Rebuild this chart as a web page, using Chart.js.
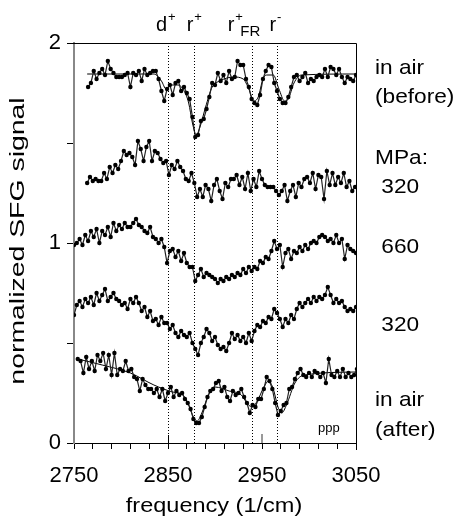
<!DOCTYPE html>
<html>
<head>
<meta charset="utf-8">
<script src="https://cdn.jsdelivr.net/npm/chart.js@4/dist/chart.umd.min.js"></script>
<style>
  body { margin: 0; background: #fff; }
  canvas { display: block; }
</style>
</head>
<body>
<canvas id="sfgChart" width="463" height="519"></canvas>
<script>
// spectra: one value every 3 cm-1 starting at the given frequency
const step = 3;

const beforeStart = 2765;
const beforeValues = [1.78, 1.80, 1.86, 1.82, 1.85, 1.87, 1.84, 1.91, 1.87, 1.85, 1.83, 1.83, 1.83, 1.84, 1.85, 1.78,
  1.85, 1.84, 1.86, 1.81, 1.87, 1.84, 1.85, 1.86, 1.86, 1.82, 1.76, 1.71, 1.77, 1.79, 1.74, 1.80, 1.81, 1.76, 1.78,
  1.75, 1.72, 1.63, 1.53, 1.54, 1.61, 1.62, 1.67, 1.73, 1.80, 1.79, 1.85, 1.81, 1.84, 1.80, 1.86, 1.82, 1.83, 1.91,
  1.89, 1.89, 1.82, 1.78, 1.72, 1.70, 1.69, 1.74, 1.82, 1.86, 1.89, 1.88, 1.80, 1.76, 1.72, 1.70, 1.70, 1.73, 1.78,
  1.83, 1.84, 1.81, 1.83, 1.85, 1.80, 1.82, 1.81, 1.83, 1.84, 1.83, 1.87, 1.83, 1.88, 1.87, 1.84, 1.87, 1.83, 1.80,
  1.83, 1.82, 1.81, 1.84];

const mpa320aStart = 2764;
const mpa320aValues = [1.30, 1.33, 1.31, 1.32, 1.31, 1.31, 1.35, 1.32, 1.38, 1.35, 1.39, 1.37, 1.41, 1.46, 1.44, 1.45,
  1.43, 1.39, 1.51, 1.47, 1.41, 1.48, 1.51, 1.41, 1.46, 1.45, 1.42, 1.40, 1.41, 1.34, 1.39, 1.37, 1.41, 1.38, 1.36,
  1.32, 1.31, 1.35, 1.30, 1.23, 1.27, 1.23, 1.29, 1.27, 1.21, 1.29, 1.32, 1.26, 1.22, 1.30, 1.28, 1.32, 1.32, 1.34,
  1.29, 1.33, 1.27, 1.35, 1.26, 1.32, 1.28, 1.36, 1.32, 1.29, 1.28, 1.28, 1.28, 1.26, 1.24, 1.26, 1.29, 1.21, 1.26,
  1.29, 1.23, 1.30, 1.28, 1.32, 1.33, 1.30, 1.35, 1.27, 1.34, 1.33, 1.22, 1.36, 1.29, 1.35, 1.29, 1.33, 1.30, 1.35,
  1.28, 1.31, 1.26, 1.28];

const mpa660Start = 2750;
const mpa660Values = [0.99, 1.00, 1.02, 0.99, 1.04, 1.01, 1.06, 1.03, 1.07, 1.00, 1.06, 1.04, 1.08, 1.03, 1.10, 1.06,
  1.09, 1.07, 1.10, 1.08, 1.08, 1.10, 1.12, 1.09, 1.08, 1.06, 1.05, 1.08, 1.03, 1.02, 1.00, 1.02, 0.98, 0.90, 0.96,
  0.97, 0.93, 0.96, 0.91, 0.95, 0.90, 0.88, 0.88, 0.81, 0.84, 0.87, 0.83, 0.85, 0.84, 0.83, 0.82, 0.80, 0.82, 0.81,
  0.83, 0.82, 0.84, 0.83, 0.85, 0.84, 0.87, 0.85, 0.88, 0.86, 0.88, 0.87, 0.91, 0.90, 0.93, 0.92, 0.96, 1.01, 0.97,
  0.99, 0.88, 0.95, 0.97, 0.92, 0.96, 0.95, 0.98, 0.96, 0.99, 0.97, 1.00, 1.01, 1.00, 1.03, 1.04, 1.03, 1.01, 1.02,
  1.00, 1.04, 1.00, 1.02, 0.92, 0.99, 0.97, 0.96, 0.95];

const mpa320bStart = 2750;
const mpa320bValues = [0.64, 0.69, 0.71, 0.68, 0.72, 0.70, 0.73, 0.69, 0.75, 0.71, 0.74, 0.77, 0.71, 0.73, 0.75, 0.72,
  0.71, 0.69, 0.70, 0.67, 0.72, 0.70, 0.73, 0.70, 0.66, 0.68, 0.63, 0.66, 0.61, 0.62, 0.59, 0.63, 0.60, 0.60, 0.57,
  0.59, 0.55, 0.53, 0.56, 0.54, 0.53, 0.55, 0.50, 0.47, 0.44, 0.50, 0.53, 0.57, 0.55, 0.51, 0.53, 0.49, 0.47, 0.48,
  0.46, 0.50, 0.55, 0.52, 0.54, 0.51, 0.53, 0.50, 0.55, 0.51, 0.56, 0.59, 0.58, 0.61, 0.60, 0.63, 0.62, 0.67, 0.65,
  0.62, 0.58, 0.62, 0.60, 0.64, 0.62, 0.67, 0.70, 0.68, 0.70, 0.72, 0.70, 0.73, 0.71, 0.73, 0.72, 0.74, 0.78, 0.74,
  0.70, 0.72, 0.70, 0.71, 0.68, 0.66, 0.67, 0.66, 0.68];

const afterStart = 2754;
const afterValues = [0.42, 0.41, 0.35, 0.43, 0.37, 0.41, 0.36, 0.44, 0.41, 0.45, 0.37, 0.44, 0.34, 0.45, 0.34, 0.37,
  0.36, 0.41, 0.36, 0.37, 0.33, 0.32, 0.26, 0.32, 0.29, 0.27, 0.27, 0.25, 0.27, 0.23, 0.27, 0.21, 0.25, 0.28, 0.23,
  0.26, 0.24, 0.25, 0.22, 0.20, 0.17, 0.12, 0.10, 0.10, 0.13, 0.18, 0.23, 0.26, 0.27, 0.30, 0.31, 0.26, 0.28, 0.23,
  0.21, 0.26, 0.24, 0.25, 0.27, 0.23, 0.20, 0.15, 0.19, 0.18, 0.22, 0.22, 0.27, 0.33, 0.31, 0.27, 0.20, 0.14, 0.16,
  0.19, 0.20, 0.27, 0.28, 0.32, 0.35, 0.37, 0.34, 0.33, 0.35, 0.33, 0.36, 0.35, 0.33, 0.35, 0.30, 0.42, 0.34, 0.33,
  0.36, 0.33, 0.37, 0.33, 0.35, 0.33, 0.34, 0.37, 0.36];

// fitted curves (frequency, value)
const fitBeforeX = [2764, 2800, 2835, 2843, 2848, 2853, 2860, 2866, 2872, 2876, 2880, 2884, 2890, 2897, 2905, 2920,
  2930, 2936, 2941, 2946, 2951, 2955, 2962, 2968, 2974, 2978, 2984, 2992, 3050];
const fitBeforeY = [1.845, 1.845, 1.845, 1.81, 1.77, 1.79, 1.79, 1.77, 1.70, 1.60, 1.54, 1.58, 1.68, 1.78, 1.81, 1.83,
  1.82, 1.77, 1.71, 1.73, 1.82, 1.84, 1.84, 1.77, 1.71, 1.72, 1.80, 1.84, 1.845];
const fitAfterX = [2754, 2780, 2810, 2835, 2855, 2866, 2872, 2877, 2881, 2886, 2893, 2900, 2915, 2928, 2934, 2939,
  2945, 2952, 2957, 2962, 2967, 2971, 2976, 2985, 2995, 3050];
const fitAfterY = [0.42, 0.39, 0.35, 0.29, 0.255, 0.24, 0.19, 0.13, 0.11, 0.15, 0.24, 0.28, 0.26, 0.24, 0.20, 0.18,
  0.21, 0.28, 0.31, 0.27, 0.18, 0.15, 0.19, 0.30, 0.34, 0.355];

// band assignments
const peakFreqs = [2850, 2878, 2939, 2966];
const peakNames = ["d", "r", "r", "r"];
const peakSups = ["+", "+", "+", "-"];
const peakSubs = ["", "", "FR", ""];

// labels on the right side
const sideLabels = ["in air", "(before)", "MPa:", " 320", " 660", " 320", "in air", "(after)"];
const sideLabelY = [1.875, 1.73, 1.425, 1.28, 0.98, 0.59, 0.215, 0.065];

const xTickLabels = [2750, 2850, 2950, 3050];
const yTickLabels = [0, 1, 2];
const xTitle = "frequency (1/cm)";
const yTitle = "normalized SFG signal";

function toPoints(start, values) {
	return values.map((v, i) => ({ x: start + i * step, y: v }));
}
function fitPoints(xs, ys) {
	return xs.map((f, i) => ({ x: f, y: ys[i] }));
}

const font = "'Liberation Sans', Arial, sans-serif";

function spectrum(start, values) {
	return {
		data: toPoints(start, values),
		borderColor: "#222",
		borderWidth: 1.2,
		pointRadius: 2.2,
		pointBackgroundColor: "#000",
		pointBorderWidth: 0,
		tension: 0
	};
}
function fit(xs, ys) {
	return {
		data: fitPoints(xs, ys),
		borderColor: "#000",
		borderWidth: 1,
		pointRadius: 0,
		cubicInterpolationMode: "monotone"
	};
}

// stretched text (the original lettering is wider than the font)
function wideText(ctx, text, cx, cy, angle, stretch) {
	ctx.save();
	ctx.translate(cx, cy);
	ctx.rotate(angle);
	ctx.scale(stretch, 1);
	ctx.textAlign = "center";
	ctx.textBaseline = "middle";
	ctx.fillText(text, 0, 0);
	ctx.restore();
}

// dotted lines, peak names, side labels, titles, frame
const overlay = {
	id: "overlay",
	afterDraw(chart) {
		const { ctx, chartArea: a, scales } = chart;
		const x = scales.x, y = scales.y;
		ctx.save();
		ctx.strokeStyle = "#000";
		ctx.lineWidth = 1;
		ctx.beginPath();
		ctx.moveTo(a.left - 7, a.top + 0.5);
		ctx.lineTo(a.right + 0.5, a.top + 0.5);
		ctx.lineTo(a.right + 0.5, a.bottom + 7);
		ctx.stroke();

		// inner ticks at 2850 and 2950
		ctx.beginPath();
		let px = Math.round(x.getPixelForValue(2850)) + 0.5;
		ctx.moveTo(px, a.bottom); ctx.lineTo(px, a.bottom - 8);
		ctx.stroke();
		ctx.strokeStyle = "#999";
		ctx.lineWidth = 2;
		ctx.beginPath();
		px = Math.round(x.getPixelForValue(2950));
		ctx.moveTo(px, a.bottom); ctx.lineTo(px, a.bottom - 9);
		ctx.stroke();

		ctx.strokeStyle = "#000";
		ctx.lineWidth = 1;
		ctx.setLineDash([1, 2]);
		peakFreqs.forEach(f => {
			const lx = Math.round(x.getPixelForValue(f)) + 0.5;
			ctx.beginPath();
			ctx.moveTo(lx, a.top);
			ctx.lineTo(lx, a.bottom);
			ctx.stroke();
		});
		ctx.setLineDash([]);

		ctx.fillStyle = "#000";
		ctx.textBaseline = "alphabetic";
		ctx.textAlign = "left";
		peakFreqs.forEach((f, i) => {
			const lx = x.getPixelForValue(f);
			ctx.font = "20px " + font;
			const w = ctx.measureText(peakNames[i]).width;
			let left = peakSubs[i] ? lx - 24 : lx - w - 1;
			ctx.fillText(peakNames[i], left, 31);
			ctx.font = "13px " + font;
			ctx.fillText(peakSups[i], left + w + 1, 21);
			if (peakSubs[i]) {
				ctx.font = "15px " + font;
				ctx.fillText(peakSubs[i], left + w + 6, 36);
			}
		});

		ctx.font = "21px " + font;
		ctx.textBaseline = "middle";
		sideLabels.forEach((t, i) => {
			ctx.save();
			ctx.translate(375, y.getPixelForValue(sideLabelY[i]));
			ctx.scale(1.08, 1);
			ctx.fillText(t, 0, 0);
			ctx.restore();
		});

		ctx.font = "13px " + font;
		ctx.fillText("ppp", 318, y.getPixelForValue(0.075));

		ctx.font = "21px " + font;
		wideText(ctx, xTitle, (a.left + a.right) / 2 - 1, 506, 0, 1.12);
		ctx.font = "20px " + font;
		wideText(ctx, yTitle, 18, 241, -Math.PI / 2, 1.42);
		ctx.restore();
	}
};

new Chart(document.getElementById("sfgChart"), {
	type: "line",
	data: {
		datasets: [
			spectrum(beforeStart, beforeValues),
			spectrum(mpa320aStart, mpa320aValues),
			spectrum(mpa660Start, mpa660Values),
			spectrum(mpa320bStart, mpa320bValues),
			spectrum(afterStart, afterValues),
			fit(fitBeforeX, fitBeforeY),
			fit(fitAfterX, fitAfterY)
		]
	},
	options: {
		responsive: false,
		animation: false,
		devicePixelRatio: 1,
		layout: { padding: { top: 43, right: 107, left: 0, bottom: 0 } },
		plugins: { legend: { display: false }, tooltip: { enabled: false } },
		scales: {
			x: {
				type: "linear",
				min: 2750,
				max: 3050,
				afterFit: s => { s.height = 76; },
				ticks: {
					stepSize: 20,
					autoSkip: false,
					maxRotation: 0,
					padding: 14,
					color: "#000",
					font: { family: font, size: 22 },
					callback: v => xTickLabels.includes(v) ? String(v) : ""
				},
				grid: { drawOnChartArea: false, tickLength: 6, color: "#000" },
				border: { color: "#000", width: 1 }
			},
			y: {
				min: 0,
				max: 2,
				afterFit: s => { s.width = 74; },
				ticks: {
					stepSize: 0.5,
					padding: 6,
					color: "#000",
					font: { family: font, size: 22 },
					callback: v => yTickLabels.includes(v) ? String(v) : ""
				},
				grid: { drawOnChartArea: false, tickLength: 7, color: "#000" },
				border: { color: "#888", width: 2 }
			}
		}
	},
	plugins: [overlay]
});
</script>
</body>
</html>
